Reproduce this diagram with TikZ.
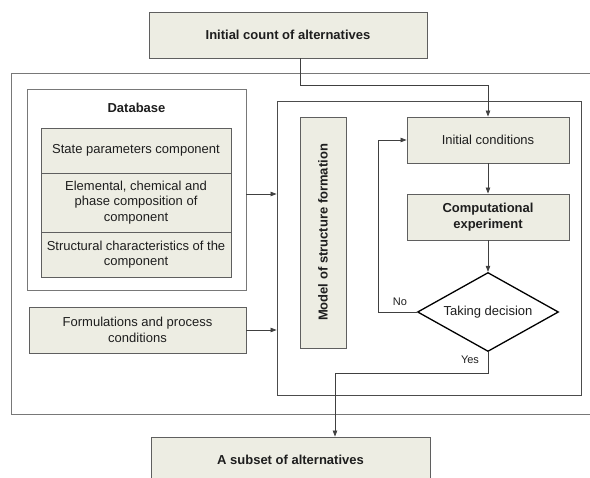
\documentclass[tikz,border=0pt]{standalone}
\usepackage{fontspec}
\setmainfont{Liberation Sans}
\usetikzlibrary{arrows.meta,shapes.geometric}
\definecolor{boxfill}{RGB}{237,237,227}
\definecolor{boxline}{RGB}{95,95,95}
\definecolor{frameline}{RGB}{120,120,120}
\definecolor{txt}{RGB}{30,30,30}
\begin{document}
\begin{tikzpicture}[x=1pt,y=-1pt,
  every node/.style={font=\fontsize{13}{15.5}\selectfont, text=txt, inner sep=0pt},
  fbox/.style={draw=boxline, line width=0.9pt, fill=boxfill, align=center},
  frame/.style={draw=frameline, line width=0.9pt},
  arr/.style={draw=black!75, line width=0.7pt, -{Triangle[length=6pt,width=4.5pt]}},
  conn/.style={draw=black!75, line width=0.7pt},
  lbl/.style={font=\fontsize{11}{13}\selectfont}]
\useasboundingbox (0,0) rectangle (590,478);
% containers
\node[frame, minimum width=581, minimum height=341] (outer) at (301.5,243.5) {};
\node[frame, minimum width=219, minimum height=201] (db) at (136.5,189.5) {};
\node[frame, draw=black!70, minimum width=304, minimum height=294] (rbox) at (429,248) {};
% top and bottom
\node[fbox, minimum width=278, minimum height=46, font=\fontsize{13}{15.5}\selectfont\bfseries] (top) at (288,35) {Initial count of alternatives};
\node[fbox, minimum width=279, minimum height=54, font=\fontsize{13}{15.5}\selectfont\bfseries, text depth=0pt] (bot) at (290.5,464) {};
\node[font=\fontsize{13}{15.5}\selectfont\bfseries] (bottxt) at (290.5,460) {A subset of alternatives};
% database
\node[font=\fontsize{13}{15.5}\selectfont\bfseries] (dbt) at (136.5,108) {Database};
\node[fbox, minimum width=190, minimum height=45] (r1) at (136,150.5) {State parameters component};
\node[fbox, minimum width=190, minimum height=59] (r2) at (136,202.5) {Elemental, chemical and\\phase composition of\\component};
\node[fbox, minimum width=190, minimum height=45] (r3) at (136,254.5) {Structural characteristics of the\\component};
\node[fbox, minimum width=217, minimum height=46] (form) at (137.5,330) {Formulations and process\\conditions};
% right side
\node[fbox, rotate=90, minimum width=231, minimum height=46, font=\fontsize{13}{15.5}\selectfont\bfseries] (model) at (323,232.5) {Model of structure formation};
\node[fbox, minimum width=162, minimum height=46] (init) at (488,140) {Initial conditions};
\node[fbox, minimum width=162, minimum height=46, font=\fontsize{13}{15.5}\selectfont\bfseries] (comp) at (488,217) {Computational\\experiment};
\node[diamond, draw=black, line width=1.3pt, fill=white, minimum width=141, minimum height=79, inner sep=0pt] (dec) at (488,312) {};
\node (dect) at (488,312) {Taking decision};
% connectors
\coordinate (j1) at (300,85);
\draw[arr] (top.south -| j1) -- (j1) -| (init.north);
\coordinate (a1) at (246,194);
\draw[arr] (a1) -- (a1 -| rbox.west);
\draw[arr] (form.east) -- (form.east -| rbox.west);
\draw[arr] (init.south) -- (comp.north);
\draw[arr] (comp.south) -- (dec.north);
\coordinate (nob) at (378,312);
\draw[arr] (dec.west) -- (nob) |- (init.west);
\node[lbl] (no) at (400,302) {No};
\coordinate (yb) at (488,373);
\coordinate (yl) at (335,373);
\draw[arr] (dec.south) -- (yb) -- (yl) -- (yl |- bot.north);
\node[lbl] (yes) at (470,360) {Yes};
\end{tikzpicture}
\end{document}
